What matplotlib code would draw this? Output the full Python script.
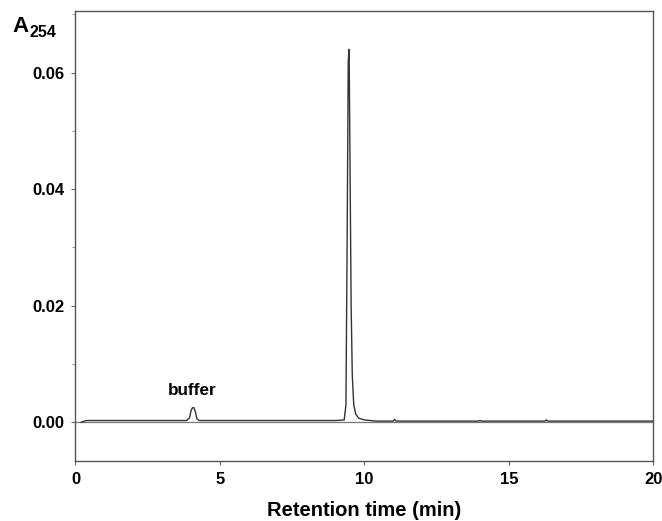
import matplotlib
matplotlib.use("Agg")
import matplotlib.pyplot as plt
from matplotlib.ticker import MultipleLocator

plt.rcParams['font.family'] = ['Liberation Sans', 'DejaVu Sans']

# Chromatogram trace
time_min = [0.20, 0.30, 0.40, 1.5, 3.0, 3.85, 3.95, 4.00, 4.05, 4.10, 4.15, 4.20, 4.28,
            4.40, 6.0, 8.0, 9.00, 9.30, 9.36, 9.40, 9.44, 9.47, 9.50, 9.54, 9.58,
            9.63, 9.70, 9.80, 10.0, 10.4, 11.00, 11.05, 11.10, 12.5, 13.95, 14.00,
            14.05, 16.25, 16.30, 16.35, 18.0, 20.0]
absorbance = [0.0000, 0.0002, 0.0003, 0.0003, 0.0003, 0.0003, 0.0008, 0.0020, 0.0025,
              0.0025, 0.0018, 0.0006, 0.0003, 0.0003, 0.0003, 0.0003, 0.0003, 0.0004,
              0.0030, 0.0300, 0.0620, 0.0640, 0.0450, 0.0200, 0.0080, 0.0030, 0.0014,
              0.0007, 0.0004, 0.0002, 0.0002, 0.0005, 0.0002, 0.0002, 0.0002, 0.0003,
              0.0002, 0.0002, 0.0004, 0.0002, 0.0002, 0.0002]

xticks = [0, 5, 10, 15, 20]
yticks = [0.00, 0.02, 0.04, 0.06]
ytick_labels = ["0.00", "0.02", "0.04", "0.06"]

fig = plt.figure(figsize=(6.62, 5.21), dpi=100)
ax = fig.add_axes([0.114, 0.1157, 0.873, 0.8633])

ax.axhline(0, color='#777777', lw=0.9, zorder=1)
ax.plot(time_min, absorbance, color='#333333', lw=1.0, zorder=2)

ax.set_xlim(0, 20)
ax.set_ylim(-0.0066, 0.0706)
ax.set_xticks(xticks)
ax.set_xticklabels([str(v) for v in xticks])
ax.set_yticks(yticks)
ax.set_yticklabels(ytick_labels)
ax.yaxis.set_minor_locator(MultipleLocator(0.01))

for s in ax.spines.values():
    s.set_color('#555555')
    s.set_linewidth(1.0)

ax.tick_params(axis='both', which='major', length=3, width=0.8, color='#666666',
               labelsize=12, pad=5)
ax.tick_params(axis='y', which='minor', length=2, width=0.6, color='#888888')
for lab in ax.get_xticklabels() + ax.get_yticklabels():
    lab.set_fontweight('bold')

ax.set_xlabel("Retention time (min)", fontsize=14.5, fontweight='bold', labelpad=10)

ax.text(4.05, 0.0042, "buffer", fontsize=12.3, fontweight='bold', ha='center', va='bottom')

fig.text(12 / 662, 1 - 32 / 521, "A", fontsize=16, fontweight='bold', ha='left', va='baseline')
fig.text(29 / 662, 1 - 37 / 521, "254", fontsize=11.5, fontweight='bold', ha='left', va='baseline')

fig.savefig("out.png", dpi=100)
